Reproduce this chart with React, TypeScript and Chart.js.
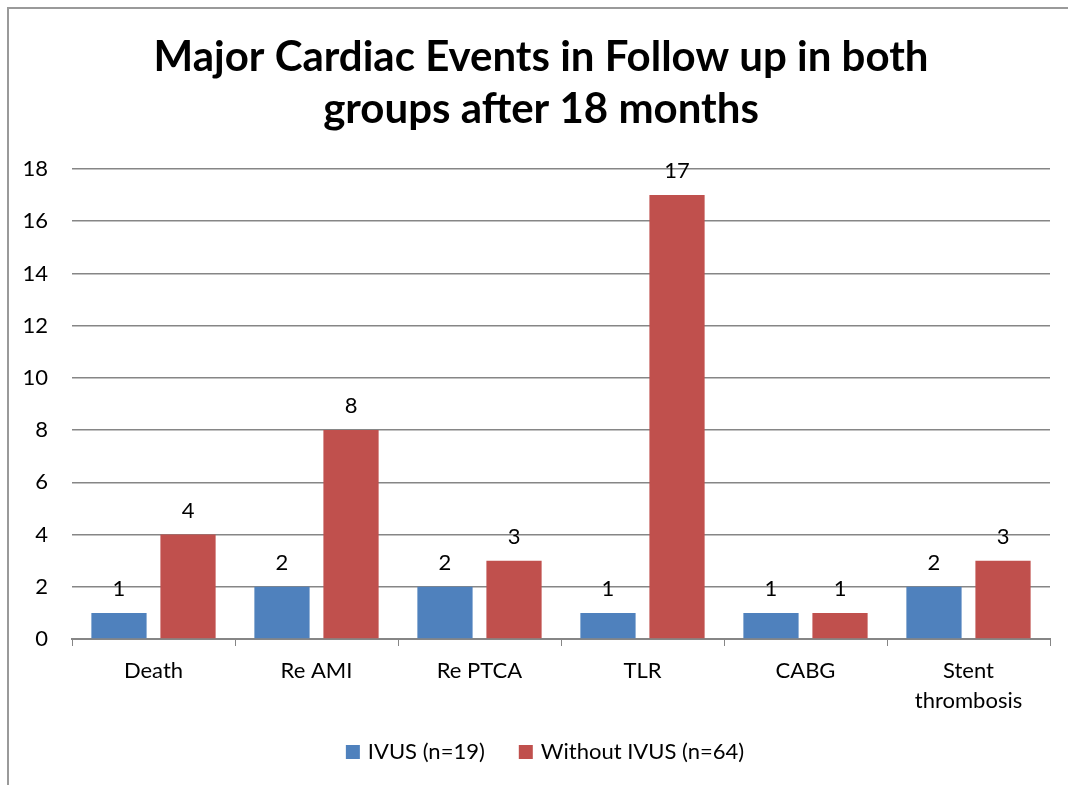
import React, { useEffect, useRef } from "react";
import { Chart, registerables } from "chart.js";

Chart.register(...registerables);

const categories: (string | string[])[] = ["Death", "Re AMI", "Re PTCA", "TLR", "CABG", ["Stent", "thrombosis"]];
const ivusValues = [1, 2, 2, 1, 1, 2];
const withoutIvusValues = [4, 8, 3, 17, 1, 3];
const seriesLabels = ["IVUS (n=19)", "Without IVUS (n=64)"];
const seriesColors = ["#4F81BD", "#C0504D"];
const titleLines = ["Major Cardiac Events in Follow up in both", "groups after 18 months"];
const yMin = 0;
const yMax = 18;
const yStep = 2;

const FONT = "Lato, 'Open Sans', sans-serif";

const valueLabelPlugin = {
  id: "valueLabels",
  afterDatasetsDraw(chart: any) {
    const ctx = chart.ctx;
    ctx.save();
    ctx.font = `22px ${FONT}`;
    ctx.fillStyle = "#000";
    ctx.textAlign = "center";
    ctx.textBaseline = "middle";
    chart.data.datasets.forEach((ds: any, i: number) => {
      const meta = chart.getDatasetMeta(i);
      meta.data.forEach((bar: any, j: number) => {
        ctx.fillText(String(ds.data[j]), bar.x, bar.y - 24);
      });
    });
    ctx.restore();
  },
};

// Title and legend drawn centred on the chart frame (not on the plot area)
const frameTextPlugin = {
  id: "frameText",
  afterDraw(chart: any) {
    const ctx = chart.ctx;
    ctx.save();
    // title
    ctx.font = `bold 42px ${FONT}`;
    ctx.fillStyle = "#000";
    ctx.textAlign = "center";
    ctx.textBaseline = "middle";
    const titleX = 541;
    titleLines.forEach((line, i) => ctx.fillText(line, titleX, 57 + i * 52));

    // legend
    ctx.font = `22px ${FONT}`;
    ctx.textAlign = "left";
    const box = 14;
    const boxGap = 8;
    const itemGap = 34;
    const items = chart.data.datasets.map((ds: any) => ({
      text: ds.label as string,
      color: ds.backgroundColor as string,
      w: ctx.measureText(ds.label).width,
    }));
    const total = items.reduce((s: number, it: any) => s + box + boxGap + it.w, 0) + itemGap * (items.length - 1);
    let x = 545 - total / 2;
    const y = 752;
    items.forEach((it: any) => {
      ctx.fillStyle = it.color;
      ctx.fillRect(x, y - box / 2, box, box);
      x += box + boxGap;
      ctx.fillStyle = "#000";
      ctx.fillText(it.text, x, y);
      x += it.w + itemGap;
    });
    ctx.restore();
  },
};

export default function App() {
  const ref = useRef<HTMLCanvasElement | null>(null);
  useEffect(() => {
    if (!ref.current) return;
    const chart = new Chart(ref.current, {
      type: "bar",
      data: {
        labels: categories,
        datasets: [
          {
            label: seriesLabels[0],
            data: ivusValues,
            backgroundColor: seriesColors[0],
            categoryPercentage: 0.847,
            barPercentage: 0.8,
          },
          {
            label: seriesLabels[1],
            data: withoutIvusValues,
            backgroundColor: seriesColors[1],
            categoryPercentage: 0.847,
            barPercentage: 0.8,
          },
        ],
      },
      options: {
        animation: false,
        responsive: false,
        layout: { padding: { left: 0, right: 18, top: 169, bottom: 58 } },
        plugins: {
          title: { display: false },
          legend: { display: false },
          tooltip: { enabled: false },
        },
        scales: {
          x: {
            grid: { drawOnChartArea: false, drawTicks: true, tickLength: 7, color: "#868686", offset: true },
            border: { display: true, color: "#868686", width: 2 },
            ticks: { color: "#000", font: { family: FONT, size: 22, lineHeight: 1.36 }, padding: 10, maxRotation: 0 },
            afterFit: (s: any) => { s.height = 88; },
          },
          y: {
            min: yMin,
            max: yMax,
            ticks: { stepSize: yStep, color: "#000", font: { family: FONT, size: 22 }, padding: 24 },
            grid: { color: "#868686", lineWidth: 1.5, drawTicks: false },
            border: { display: false },
            afterFit: (s: any) => { s.width = 72; },
          },
        },
      },
      plugins: [valueLabelPlugin, frameTextPlugin],
    });
    return () => chart.destroy();
  }, []);

  return (
    <div style={{ position: "fixed", left: 0, top: 0, width: 1068, height: 785, background: "#fff", overflow: "hidden" }}>
      <div
        style={{
          position: "absolute",
          left: 7,
          top: 7,
          width: 1100,
          height: 900,
          borderLeft: "2px solid #9a9a9a",
          borderTop: "2px solid #9a9a9a",
        }}
      />
      <canvas ref={ref} width={1068} height={785} style={{ position: "absolute", left: 0, top: 0 }} />
    </div>
  );
}
